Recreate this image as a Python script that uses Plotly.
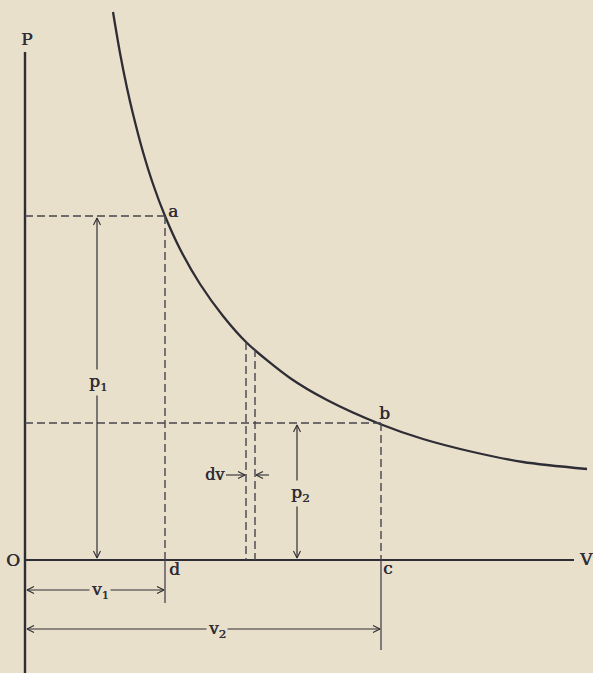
import plotly.graph_objects as go

# ---- data (v, p units; origin O at v=0, p=0) ----
CURVE_V = [88, 95, 102, 108, 118, 128, 140, 155, 175, 198, 222, 265, 302, 355, 398, 448, 498, 562]
CURVE_P = [548, 507, 472, 446, 408, 376, 344, 311, 276, 244, 217, 182, 160, 136, 121, 108, 98, 91]

V1, P1 = 140, 344          # point a
V2, P2 = 356, 137          # point b
DV_LEFT, DV_RIGHT = 221, 230
DV_TOP_LEFT, DV_TOP_RIGHT = 218, 211

P_AXIS_TOP, P_AXIS_BOTTOM = 508, -113
V_AXIS_END = 549

BG = "#E9E0CB"
INK = "#2e2c34"
DASH_INK = "#47444d"
FONT = "DejaVu Serif"

fig = go.Figure()

def line(xs, ys, dash=None, width=1.4, color=DASH_INK):
    fig.add_trace(go.Scatter(x=xs, y=ys, mode="lines", hoverinfo="skip",
                             line=dict(color=color, width=width, dash=dash)))

def chevron(tx, ty, dx, dy, size=7, spread=0.5):
    # open arrowhead with tip at (tx, ty) pointing in direction (dx, dy)
    px, py = -dy, dx
    bx1 = tx - size * dx + size * spread * px
    by1 = ty - size * dy + size * spread * py
    bx2 = tx - size * dx - size * spread * px
    by2 = ty - size * dy - size * spread * py
    line([bx1, tx, bx2], [by1, ty, by2], width=1.1, color=INK)

DASH = "8px,4px"

# axes
line([0, 0], [P_AXIS_TOP, P_AXIS_BOTTOM], width=2.4, color=INK)
line([0, V_AXIS_END], [0, 0], width=2.0, color=INK)

# isotherm
fig.add_trace(go.Scatter(x=CURVE_V, y=CURVE_P, mode="lines", hoverinfo="skip",
                         line=dict(color=INK, width=2.3, shape="spline", smoothing=0.8)))

# dashed construction lines
line([0, V1], [P1, P1], dash=DASH)
line([V1, V1], [P1, 0], dash=DASH)
line([0, V2], [P2, P2], dash=DASH)
line([V2, V2], [P2, 0], dash=DASH)
line([DV_LEFT, DV_LEFT], [DV_TOP_LEFT, 0], dash=DASH)
line([DV_RIGHT, DV_RIGHT], [DV_TOP_RIGHT, 0], dash=DASH)

# solid extension lines below the V axis
D_EXT, C_EXT = -43, -90
line([V1, V1], [0, D_EXT], width=1.3)
line([V2, V2], [0, C_EXT], width=1.3)

# dimension arrows
P1_ARROW_V, P2_ARROW_V = 72, 272
V1_ARROW_P, V2_ARROW_P = -30, -69
DV_LABEL_P = 85

line([P1_ARROW_V, P1_ARROW_V], [P1 - 2, 2], width=1.2, color=INK)
chevron(P1_ARROW_V, P1 - 2, 0, 1)
chevron(P1_ARROW_V, 2, 0, -1)

line([P2_ARROW_V, P2_ARROW_V], [P2 - 2, 2], width=1.2, color=INK)
chevron(P2_ARROW_V, P2 - 2, 0, 1)
chevron(P2_ARROW_V, 2, 0, -1)

line([2, V1 - 1], [V1_ARROW_P, V1_ARROW_P], width=1.2, color=INK)
chevron(2, V1_ARROW_P, -1, 0)
chevron(V1 - 1, V1_ARROW_P, 1, 0)

line([2, V2 - 1], [V2_ARROW_P, V2_ARROW_P], width=1.2, color=INK)
chevron(2, V2_ARROW_P, -1, 0)
chevron(V2 - 1, V2_ARROW_P, 1, 0)

# dv pointers
line([DV_LEFT - 20, DV_LEFT - 1], [DV_LABEL_P, DV_LABEL_P], width=1.1, color=INK)
chevron(DV_LEFT - 1, DV_LABEL_P, 1, 0)
line([DV_RIGHT + 14, DV_RIGHT + 1], [DV_LABEL_P, DV_LABEL_P], width=1.1, color=INK)
chevron(DV_RIGHT + 1, DV_LABEL_P, -1, 0)

# labels
def label(x, y, text, size=17, masked=False, xanchor="center"):
    fig.add_annotation(x=x, y=y, text=text, showarrow=False, xanchor=xanchor,
                       yanchor="middle",
                       font=dict(family=FONT, size=size, color=INK,
                                 shadow="0.5px 0 0 " + INK),
                       bgcolor=BG if masked else "rgba(0,0,0,0)", borderpad=1)

label(1, 521, "P")
label(561, 1, "V")
label(-12, 0, "O")
label(148, 349, "a")
label(359, 147, "b")
label(363, -8, "c")
label(149, -9, "d")
label(P1_ARROW_V + 1, 178, "p<sub>1</sub>", masked=True)
label(P2_ARROW_V + 3, 67, "p<sub>2</sub>", masked=True)
label(75, V1_ARROW_P, "v<sub>1</sub>", masked=True)
label(192, V2_ARROW_P, "v<sub>2</sub>", masked=True)
label(DV_LEFT - 20, DV_LABEL_P + 1, "dv", xanchor="right", size=16)

fig.update_layout(
    width=593, height=673,
    margin=dict(l=0, r=0, t=0, b=0),
    paper_bgcolor=BG, plot_bgcolor=BG,
    showlegend=False,
    xaxis=dict(range=[-25, 568], visible=False, fixedrange=True),
    yaxis=dict(range=[-113, 560], visible=False, fixedrange=True),
)

fig.write_html(
    "out.html",
    config={"displayModeBar": False},
    post_script="document.body.style.margin='0';document.body.style.overflow='hidden';"
                "document.body.style.background='" + BG + "';",
)
